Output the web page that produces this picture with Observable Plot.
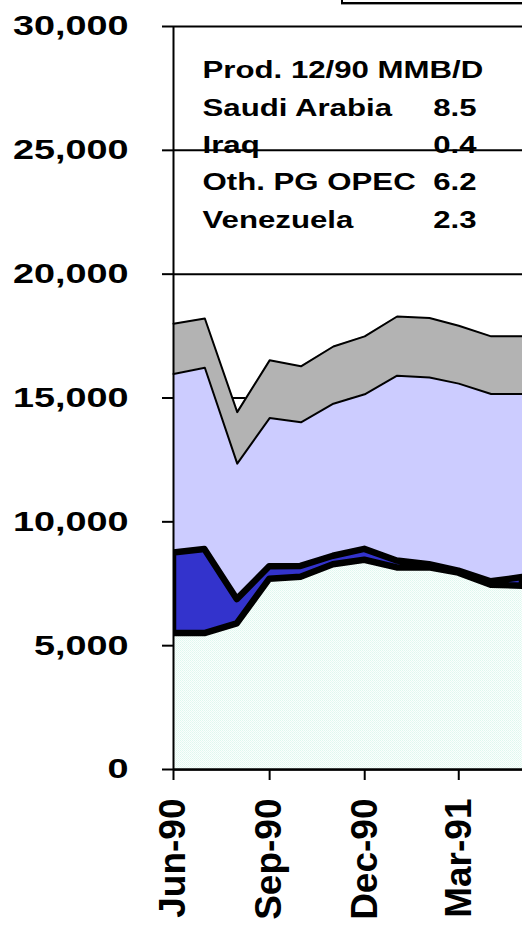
<!DOCTYPE html>
<html>
<head>
<meta charset="utf-8">
<script src="https://cdn.jsdelivr.net/npm/d3@7"></script>
<script src="https://cdn.jsdelivr.net/npm/@observablehq/plot@0.6"></script>
<style>
  html, body { margin: 0; padding: 0; background: #fff; overflow: hidden; }
  #wrap { position: relative; width: 522px; height: 925px; overflow: hidden; }
  #legendbox { position: absolute; left: 341px; top: -30px; width: 400px; height: 34px;
    box-sizing: border-box; border: 2px solid #000; box-shadow: 0 1px 0 #999; background: #fff; }
  svg { display: block; }
</style>
</head>
<body>
<div id="wrap"><div id="legendbox"></div></div>
<script>
// ---- data (thousand barrels per day) ----
const months = ["1990-06-01","1990-07-01","1990-08-01","1990-09-01","1990-10-01","1990-11-01",
                "1990-12-01","1991-01-01","1991-02-01","1991-03-01","1991-04-01","1991-05-01"];
const saudi     = [5490, 5490, 5880, 7680, 7760, 8270, 8450, 8140, 8140, 7930, 7440, 7400];
const iraq      = [3250, 3390,  980,  510,  440,  340,  440,  280,  130,   80,  140,  350];
const othPG     = [7230, 7340, 5490, 6000, 5820, 6160, 6260, 7480, 7560, 7570, 7580, 7410];
const venezuela = [2030, 1990, 2080, 2330, 2260, 2310, 2340, 2390, 2400, 2340, 2330, 2330];
const seriesNames = ["Saudi Arabia", "Iraq", "Oth. PG OPEC", "Venezuela"];
const yTicks = [0, 5000, 10000, 15000, 20000, 25000, 30000];
const xTicks = ["1990-06-01", "1990-09-01", "1990-12-01", "1991-03-01"];
const annotLabels = ["Prod. 12/90 MMB/D", "Saudi Arabia", "Iraq", "Oth. PG OPEC", "Venezuela"];
const annotValues = ["", "8.5", "0.4", "6.2", "2.3"];

// ---- table ----
const table = months.map((m, i) => ({
  date: new Date(m),
  "Saudi Arabia": saudi[i], "Iraq": iraq[i], "Oth. PG OPEC": othPG[i], "Venezuela": venezuela[i]
}));
const stacked = d3.stack().keys(seriesNames)(table);
const X = d => d.data.date;

const defs = () => {
  const g = d3.create("svg:defs");
  const p = g.append("pattern").attr("id", "mint").attr("width", 2).attr("height", 2)
    .attr("patternUnits", "userSpaceOnUse");
  p.append("rect").attr("width", 2).attr("height", 2).attr("fill", "#fbfffd");
  p.append("rect").attr("width", 1).attr("height", 1).attr("fill", "#dff7ef");
  p.append("rect").attr("x", 1).attr("y", 1).attr("width", 1).attr("height", 1).attr("fill", "#e6f9f3");
  return g.node();
};

const font = "'Liberation Sans', Arial, sans-serif";
const annotMarks = [];
annotLabels.forEach((t, i) => {
  annotMarks.push(Plot.text([t], {text: d => d, frameAnchor: "top-left", dx: 29, dy: 44 + 37.4 * i,
    textAnchor: "start", lineAnchor: "middle", fontSize: 24, fontWeight: "bold", fill: "#000"}));
  if (annotValues[i]) {
    annotMarks.push(Plot.text([annotValues[i]], {text: d => d, frameAnchor: "top-left", dx: 303, dy: 44 + 37.4 * i,
      textAnchor: "end", lineAnchor: "middle", fontSize: 24, fontWeight: "bold", fill: "#000"}));
  }
});

const chart = Plot.plot({
  width: 522,
  height: 925,
  marginLeft: 173,
  marginRight: 0,
  marginTop: 26,
  marginBottom: 156,
  style: {fontFamily: font, fontWeight: "bold", color: "#000", background: "#fff", overflow: "visible"},
  x: {type: "utc", domain: [new Date(months[0]), new Date(months[months.length - 1])]},
  y: {domain: [0, 30000]},
  marks: [
    defs,
    Plot.ruleY(yTicks, {stroke: "#000", strokeWidth: 2}),
    Plot.areaY(stacked[0], {x: X, y1: d => d[0], y2: d => d[1], fill: "url(#mint)"}),
    Plot.areaY(stacked[1], {x: X, y1: d => d[0], y2: d => d[1], fill: "#3333cc"}),
    Plot.areaY(stacked[2], {x: X, y1: d => d[0], y2: d => d[1], fill: "#ccccff"}),
    Plot.areaY(stacked[3], {x: X, y1: d => d[0], y2: d => d[1], fill: "#b3b3b3"}),
    Plot.areaY(stacked[1], {x: X, y1: d => d[0], y2: d => d[1], fill: "none", stroke: "#000",
      strokeWidth: 6.5, clip: true}),
    Plot.lineY(stacked[2], {x: X, y: d => d[1], stroke: "#000", strokeWidth: 2}),
    Plot.lineY(stacked[3], {x: X, y: d => d[1], stroke: "#000", strokeWidth: 2}),
    Plot.ruleY([0], {stroke: "#000", strokeWidth: 2.5}),
    Plot.ruleX([new Date(months[0])], {y1: 0, y2: 30000, stroke: "#000", strokeWidth: 2}),
    Plot.axisY({ticks: yTicks, tickFormat: d3.format(","), tickSize: 11, tickPadding: 34,
      fontSize: 28, fontWeight: "bold", strokeWidth: 2, label: null}),
    Plot.axisX({ticks: xTicks.map(d => new Date(d)), tickFormat: d3.utcFormat("%b-%y"), tickRotate: -90,
      tickSize: 11, tickPadding: 18, fontSize: 37, fontWeight: "bold", strokeWidth: 2, label: null}),
    ...annotMarks
  ]
});

document.getElementById("wrap").prepend(chart);

// horizontal text in the reference is drawn wider than normal: stretch glyphs about each anchor
function widen(sel, f) {
  chart.querySelectorAll(sel).forEach(t => {
    const x = parseFloat(t.getAttribute("x") || "0") || 0;
    const tr = t.getAttribute("transform") || "";
    t.setAttribute("transform", `${tr} translate(${x},0) scale(${f},1) translate(${-x},0)`.trim());
  });
}
widen('g[aria-label="y-axis tick label"] text', 1.35);
widen('g[aria-label="text"] text', 1.30);
</script>
</body>
</html>
